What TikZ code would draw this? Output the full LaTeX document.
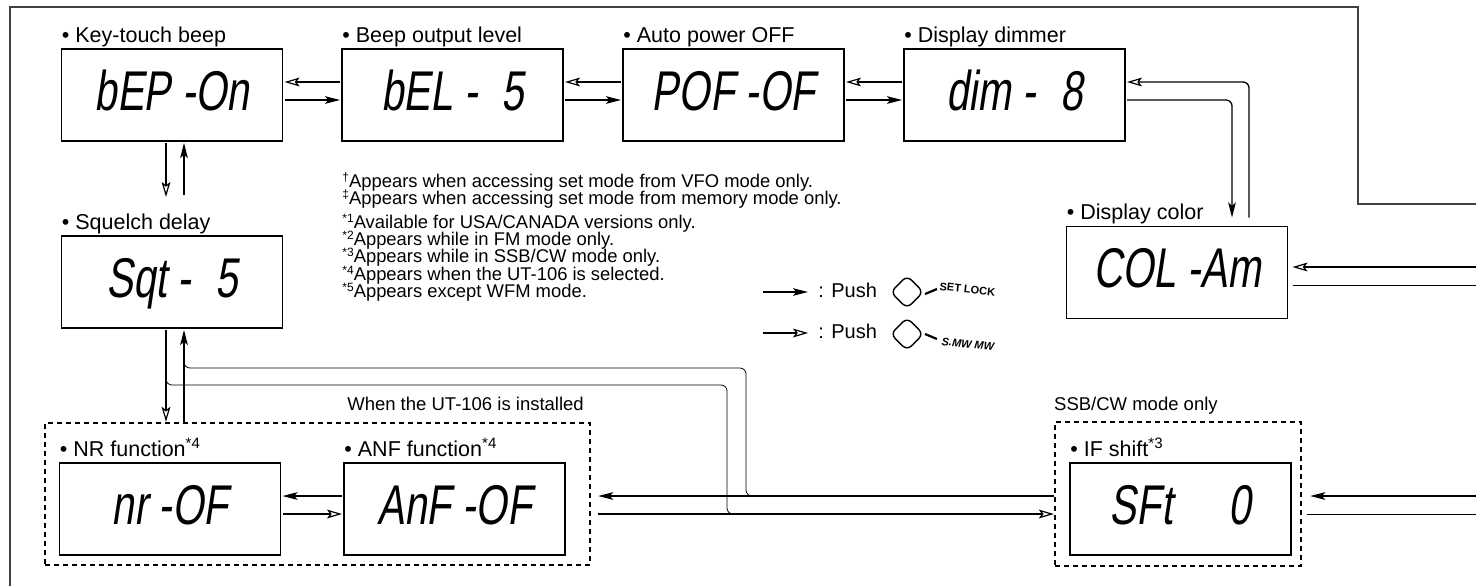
\documentclass[tikz,border=0pt]{standalone}
\usepackage{fontspec}
\setmainfont{Liberation Sans}
\newfontfamily\lcdfont[FakeStretch=0.72,FakeSlant=0.15]{Liberation Sans}
\usetikzlibrary{arrows.meta, calc, positioning}
\newcommand\hochz[1]{\raisebox{0.55ex}{\fontsize{6}{6}\selectfont #1}}

\begin{document}
\begin{tikzpicture}[x=0.5pt, y=-0.5pt,
    anzeige/.style={draw, line width=0.75pt, minimum width=110.5pt,
                    minimum height=46pt, inner sep=0pt, outer sep=1pt,
                    text height=20pt, text depth=5pt,
                    font=\fontsize{28}{30}\lcdfont},
    gruppe/.style={draw, line width=1.2pt, dash pattern=on 2.5pt off 2pt, inner sep=0pt},
    titel/.style={anchor=base west, inner sep=0pt, font=\fontsize{10.75}{13}\selectfont},
    hinweis/.style={inner sep=0pt, font=\fontsize{9.25}{11}\selectfont},
    fuss/.style={anchor=base west, inner sep=0pt, font=\fontsize{9.2}{10}\selectfont},
    knopf/.style={draw, line width=0.7pt, rounded corners=3pt, minimum size=11.5pt,
                  inner sep=0pt, rotate=45},
    taste/.style={anchor=base west, inner sep=0pt, font=\fontsize{5.5}{6}\selectfont\bfseries},
    pv/.style={-{Stealth[length=7.5pt, width=3.8pt, inset=1.6pt]}, line width=0.65pt},
    pw/.style={-{Stealth[open, length=7.5pt, width=4.4pt, inset=1.6pt, line width=0.6pt]}, line width=0.65pt},
    rahmen/.style={line width=1pt, black!75}
  ]
  \useasboundingbox (0,0) rectangle (1476,586);

  % Rahmen
  \draw[rahmen] (10,586) -- (10,7) -- (1358,7) -- (1358,204) -- (1476,204);

  % Anzeigen
  \node[anzeige] (bep) at (172,95)     {bEP -On};
  \node[anzeige] (bel) at (452.5,95)   {bEL -\hspace{12pt}5};
  \node[anzeige] (pof) at (733.5,95)   {POF -OF};
  \node[anzeige] (dim) at (1014.5,95)  {dim -\hspace{12pt}8};
  \node[anzeige] (col) at (1177,272.5) {COL -Am};
  \node[anzeige] (sqt) at (172,282)    {Sqt -\hspace{12pt}5};
  \node[anzeige] (nr)  at (170,509)    {nr -OF};
  \node[anzeige] (anf) at (454.5,509)  {AnF -OF};
  \node[anzeige] (sft) at (1180.5,509) {SFt\hspace{28pt}0};

  % Gruppen (gestrichelt)
  \node[gruppe, minimum width=272.5pt, minimum height=71pt] (nrgrp) at (317.5,494) {};
  \node[gruppe, minimum width=123pt, minimum height=72pt] (ifgrp) at (1178,494) {};

  % Titel ueber den Anzeigen
  \foreach \n/\t in {bep/Key-touch beep, bel/Beep output level, pof/Auto power OFF,
                     dim/Display dimmer, col/Display color, sqt/Squelch delay,
                     nr/{NR function\textsuperscript{*4}},
                     anf/{ANF function\textsuperscript{*4}},
                     sft/{IF shift\textsuperscript{*3}}}
    \node[titel] (t\n) at ($(\n.north west)+(2,-5)$) {• \t};

  \node[hinweis, anchor=base east] (tut) at ($(nrgrp.north east)+(-7,-11)$) {When the UT-106 is installed};
  \node[hinweis, anchor=base west] (tssb) at ($(ifgrp.north west)+(0,-10)$) {SSB/CW mode only};

  % Fussnoten
  \foreach \y/\t [count=\i] in {
      187/{\hochz{†}Appears when accessing set mode from VFO mode only.},
      204/{\hochz{‡}Appears when accessing set mode from memory mode only.},
      228/{\hochz{*1}Available for USA/CANADA versions only.},
      245/{\hochz{*2}Appears while in FM mode only.},
      262/{\hochz{*3}Appears while in SSB/CW mode only.},
      280/{\hochz{*4}Appears when the UT-106 is selected.},
      297/{\hochz{*5}Appears except WFM mode.}}
    \node[fuss] (fn\i) at (342,\y) {\t};

  % Pfeile obere Reihe
  \foreach \a/\b in {bep/bel, bel/pof, pof/dim} {
    \draw[pw] ($(\b.west)+(0,-13)$) -- ($(\a.east)+(0,-13)$);
    \draw[pv] ($(\a.east)+(0,5)$) -- ($(\b.west)+(0,5)$);
  }

  % dim <-> col
  \draw[pv, rounded corners=3pt] ($(dim.east)+(0,5)$) -| ($(col.north)+(55,-7)$);
  \draw[pw, rounded corners=3pt] ($(col.north)+(72,-7)$) |- ($(dim.east)+(0,-13)$);

  % col nach rechts (offen)
  \coordinate (re1) at (1476,267);
  \coordinate (re2) at (1476,285);
  \draw[pw] (re1) -- ($(col.east |- re1)+(3,0)$);
  \draw ($(col.east |- re2)+(3,0)$) -- (re2);

  % bep <-> sqt
  \coordinate (bL) at ($(bep.south)+(-6,0)$);
  \coordinate (bR) at ($(bep.south)+(12,0)$);
  \coordinate (sL) at ($(sqt.south)+(-6,0)$);
  \coordinate (sR) at ($(sqt.south)+(12,0)$);
  \draw[pw] (bL) -- ($(sqt.north)+(-6,-37)$);
  \draw[pv] ($(sqt.north)+(12,-39)$) -- (bR);

  % sqt <-> untere Reihe
  \coordinate (kLo) at (727,385);
  \coordinate (kHi) at (746,368);
  \draw[pw] (sL) -- (sL |- nrgrp.north);
  \draw[pv] (sR |- nrgrp.north) -- (sR);
  \draw[rounded corners=3pt] (sL) |- (kLo) |- ($(kLo)+(40,129)$);
  \draw[rounded corners=3pt] ($(kHi)+(40,128)$) -| (kHi) -| ($(sR)+(0,25)$);

  % untere Reihe
  \draw[pv] ($(anf.west)+(0,-13)$) -- ($(nr.east)+(0,-13)$);
  \draw[pw] ($(nr.east)+(0,5)$) -- ($(anf.west)+(0,5)$);
  \draw[pv] ($(ifgrp.west)+(0,2)$) -- ($(nrgrp.east)+(7,2)$);
  \draw[pw] ($(nrgrp.east)+(7,20)$) -- ($(ifgrp.west)+(0,20)$);

  \coordinate (ri1) at (1476,496);
  \coordinate (ri2) at (1476,514);
  \draw[pv] (ri1) -- ($(ifgrp.east |- ri1)+(8,0)$);
  \draw ($(ifgrp.east |- ri2)+(5,0)$) -- (ri2);

  % Legende
  \coordinate (la1) at (763,292); \coordinate (lb1) at (808,292);
  \coordinate (la2) at (763,333); \coordinate (lb2) at (808,333);
  \draw[pv] (la1) -- (lb1);
  \draw[pw] (la2) -- (lb2);
  \node[titel, font=\fontsize{10}{12}\selectfont] (push1) at (818,297) {: Push};
  \node[titel, font=\fontsize{10}{12}\selectfont] (push2) at (818,338) {: Push};
  \node[knopf] (k1) at (907,292) {};
  \node[knopf] (k2) at (907,334) {};
  \draw[line width=1.1pt] ($(k1)+(18,2)$) -- ++(12,-5);
  \draw[line width=1.1pt] ($(k2)+(18,0)$) -- ++(12,5);
  \node[taste, rotate=-6] (tk1) at (939,290) {SET LOCK};
  \node[taste, rotate=-6, font=\fontsize{5.5}{6}\selectfont\bfseries\itshape] (tk2) at (941,345) {S.MW MW};
\end{tikzpicture}
\end{document}
